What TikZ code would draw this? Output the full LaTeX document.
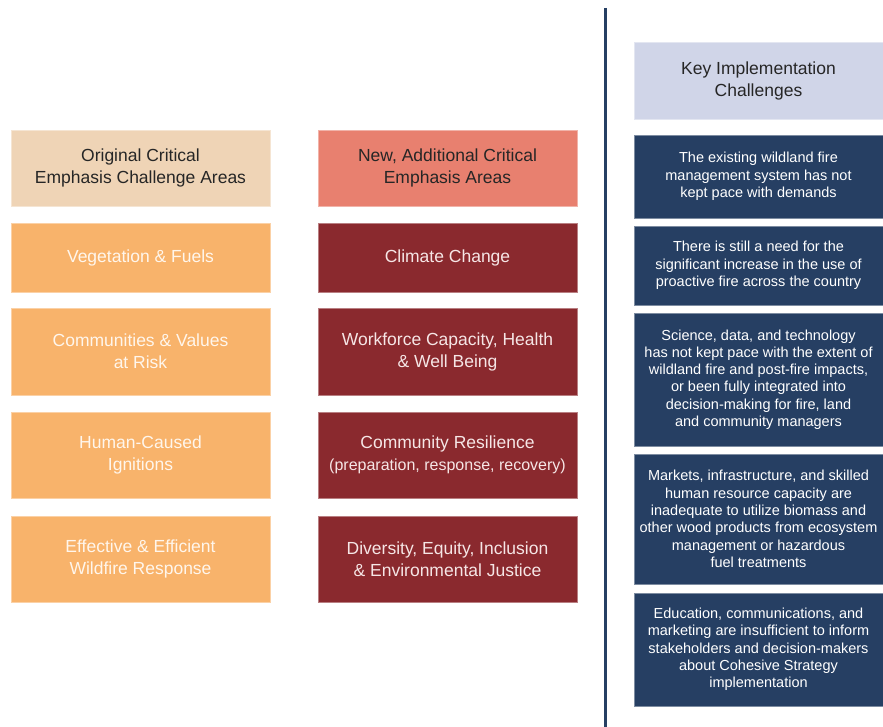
\documentclass[tikz,border=0pt]{standalone}
\usepackage{fontspec}
\setmainfont{Liberation Sans}
\definecolor{tanC}{HTML}{EFD4B6}
\definecolor{orangeC}{HTML}{F8B36B}
\definecolor{salmonC}{HTML}{E8806F}
\definecolor{redC}{HTML}{8A292E}
\definecolor{lavC}{HTML}{D0D5E8}
\definecolor{navyC}{HTML}{263F63}
\definecolor{txtO}{HTML}{FFF6EC}
\definecolor{txtR}{HTML}{F6E6E6}
\begin{document}
\begin{tikzpicture}[x=1pt,y=-1pt,
  basebox/.style={rectangle, inner sep=0pt, align=center, line width=0.8pt},
  hdrL/.style={basebox, fill=tanC, draw=tanC!60!white, minimum width=259pt, text=black!85, font=\fontsize{17.5}{22}\selectfont},
  boxO/.style={basebox, fill=orangeC, draw=orangeC!60!white, minimum width=259pt, text=txtO, font=\fontsize{17.5}{22}\selectfont},
  hdrM/.style={basebox, fill=salmonC, draw=salmonC!60!white, minimum width=259pt, text=black!85, font=\fontsize{17.5}{22}\selectfont},
  boxR/.style={basebox, fill=redC, draw=redC!60!white, minimum width=259pt, text=txtR, font=\fontsize{17.5}{22}\selectfont},
  hdrK/.style={basebox, fill=lavC, draw=lavC!60!white, minimum width=249pt, text=black!85, font=\fontsize{17.5}{22}\selectfont},
  boxB/.style={basebox, fill=navyC, draw=navyC!60!white, minimum width=249pt, text=white, font=\fontsize{14.5}{17.3}\selectfont},
  divider/.style={line width=3pt, draw=navyC}
]
\useasboundingbox (0,0) rectangle (883,727);
% left column
\node[hdrL, minimum height=76pt] (oh) at (140.5,168) {Original Critical\\Emphasis Challenge Areas};
\node[boxO, minimum height=69pt] (o1) at (140.5,257.5) {Vegetation \& Fuels};
\node[boxO, minimum height=87pt] (o2) at (140.5,351.5) {Communities \& Values\\at Risk};
\node[boxO, minimum height=86pt] (o3) at (140.5,455) {Human-Caused\\Ignitions};
\node[boxO, minimum height=86pt] (o4) at (140.5,559) {Effective \& Efficient\\Wildfire Response};
% middle column
\node[hdrM, minimum height=76pt] (nh) at (447.5,168) {New, Additional Critical\\Emphasis Areas};
\node[boxR, minimum height=69pt] (n1) at (447.5,257.5) {Climate Change};
\node[boxR, minimum height=87pt] (n2) at (447.5,351.5) {Workforce Capacity, Health\\\& Well Being};
\node[boxR, minimum height=86pt] (n3) at (447.5,455) {Community Resilience\\{\fontsize{16}{22}\selectfont(preparation, response, recovery)}};
\node[boxR, minimum height=86pt] (n4) at (447.5,559) {Diversity, Equity, Inclusion\\\& Environmental Justice};
% divider
\coordinate (dtop) at (605,8);
\coordinate (dbot) at (605,727);
\draw[divider] (dtop) -- (dbot);
% right column
\node[hdrK, minimum height=77pt] (kh) at (758.5,80.5) {Key Implementation\\Challenges};
\node[boxB, minimum height=83pt] (k1) at (758.5,176.5) {The existing wildland fire\\management system has not\\kept pace with demands};
\node[boxB, minimum height=79pt] (k2) at (758.5,265.5) {There is still a need for the\\significant increase in the use of\\proactive fire across the country};
\node[boxB, minimum height=133pt] (k3) at (758.5,379.5) {Science, data, and technology\\has not kept pace with the extent of\\wildland fire and post-fire impacts,\\or been fully integrated into\\decision-making for fire, land\\and community managers};
\node[boxB, minimum height=130pt] (k4) at (758.5,519) {Markets, infrastructure, and skilled\\human resource capacity are\\inadequate to utilize biomass and\\other wood products from ecosystem\\management or hazardous\\fuel treatments};
\node[boxB, minimum height=113pt] (k5) at (758.5,649.5) {Education, communications, and\\marketing are insufficient to inform\\stakeholders and decision-makers\\about Cohesive Strategy\\implementation};
\end{tikzpicture}
\end{document}
